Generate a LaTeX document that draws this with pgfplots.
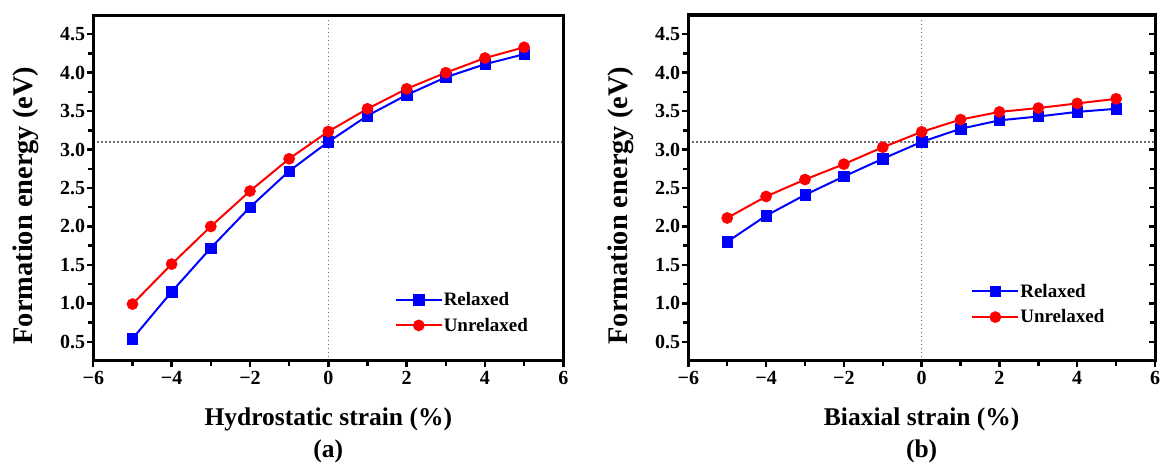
\documentclass[border=0pt]{standalone}
\usepackage{pgfplots}
\pgfplotsset{compat=1.18}
\usepackage{fontspec}
\setmainfont{Liberation Serif}

\pgfplotstableread{
x rel unrel
-5 0.54 0.99
-4 1.15 1.51
-3 1.72 2.00
-2 2.25 2.46
-1 2.72 2.88
0 3.10 3.235
1 3.44 3.53
2 3.71 3.79
3 3.94 4.00
4 4.11 4.19
5 4.24 4.33
}\hydro

\pgfplotstableread{
x rel unrel
-5 1.80 2.11
-4 2.14 2.39
-3 2.41 2.61
-2 2.65 2.81
-1 2.88 3.03
0 3.10 3.23
1 3.27 3.39
2 3.38 3.49
3 3.43 3.54
4 3.49 3.60
5 3.53 3.66
}\biax

\definecolor{refgray}{RGB}{105,105,105}

\pgfplotsset{
  every tick/.style={black, line width=2.4pt},
  every major tick/.append style={black, line width=2.4pt},
  every minor tick/.append style={black, line width=2.4pt},
  geom/.style={
    scale only axis, height=346pt,
    xmin=-6, xmax=6, ymin=0.25, ymax=4.75,
    axis line style={line width=3pt}, clip=false,
    major tick length=6.5pt, minor tick length=5.5pt,
  },
  myaxis/.style={
    geom,
    xtick={-6,-4,-2,0,2,4,6},
    xticklabels={−6,−4,−2,0,2,4,6},
    minor xtick={-5,-3,-1,1,3,5},
    ytick={0.5,1,1.5,2,2.5,3,3.5,4,4.5},
    yticklabels={0.5,1.0,1.5,2.0,2.5,3.0,3.5,4.0,4.5},
    minor ytick={0.75,1.25,1.75,2.25,2.75,3.25,3.75,4.25},
    tick align=outside, xtick pos=bottom, ytick pos=left,
    tick label style={font=\fontsize{20}{22}\selectfont\bfseries},
    yticklabel style={inner sep=1.5pt},
    xlabel style={font=\fontsize{25.5}{32}\selectfont\bfseries, align=center,
      at={(rel axis cs:0.5,-0.135)}, anchor=north, inner sep=0pt},
    every axis y label/.style={font=\fontsize{28.4}{32}\selectfont\bfseries,
      rotate=90, anchor=center},
    ylabel={Formation energy (eV)},
    legend cell align=left,
    legend style={draw=none, fill=none, anchor=west, inner sep=0pt,
      font=\fontsize{19}{22}\selectfont\bfseries, row sep=9pt,
      nodes={inner sep=1pt}},
    legend image code/.code={\draw[mark repeat=2,mark phase=2]
      plot coordinates {(0pt,0pt) (23pt,0pt) (46pt,0pt)};},
  },
  relstyle/.style={color=blue, draw=blue, line width=2pt, mark=square*, mark size=5.2pt,
    mark options={solid, fill=blue, draw=blue, line width=0.5pt}},
  unrelstyle/.style={color=red, draw=red, line width=2pt, mark=*, mark size=5.6pt,
    mark options={solid, fill=red, draw=red, line width=0.5pt}},
  refline/.style={refgray, line width=1.3pt, dash pattern=on 1.3pt off 2.7pt, forget plot},
}

\begin{document}
\begin{tikzpicture}[x=1pt,y=1pt]
\useasboundingbox (0,0) rectangle (1161,468);

% (a)
\begin{axis}[myaxis, width=470pt, at={(93.3pt,107pt)}, anchor=south west,
  xlabel={Hydrostatic strain (\%)\\(a)},
  every axis y label/.append style={at={(rel axis cs:-0.143,0.449)}},
  legend style={at={(rel axis cs:0.641,0.14)}}]
\addplot[refline] coordinates {(-6,3.1) (6,3.1)};
\addplot[refline] coordinates {(0,0.25) (0,4.75)};
\addplot[relstyle] table[x=x,y=rel] {\hydro};
\addlegendentry{Relaxed}
\addplot[unrelstyle] table[x=x,y=unrel] {\hydro};
\addlegendentry{Unrelaxed}
\draw[black, line width=3pt] (rel axis cs:0,0) rectangle (rel axis cs:1,1);
\end{axis}

% (b)
\begin{axis}[myaxis, width=466.7pt, at={(688.3pt,107pt)}, anchor=south west,
  xlabel={Biaxial strain (\%)\\(b)},
  every axis y label/.append style={at={(rel axis cs:-0.144,0.449)}},
  legend style={at={(rel axis cs:0.606,0.164)}}]
\addplot[refline] coordinates {(-6,3.1) (6,3.1)};
\addplot[refline] coordinates {(0,0.25) (0,4.75)};
\addplot[relstyle] table[x=x,y=rel] {\biax};
\addlegendentry{Relaxed}
\addplot[unrelstyle] table[x=x,y=unrel] {\biax};
\addlegendentry{Unrelaxed}
\draw[black, line width=3pt] (rel axis cs:0,0) rectangle (rel axis cs:1,1);
\end{axis}
% right-side inward ticks of (b)
\begin{axis}[geom, width=466.7pt, at={(688.3pt,107pt)}, anchor=south west,
  xtick=\empty, ytick={0.5,1,1.5,2,2.5,3,3.5,4,4.5},
  minor ytick={0.75,1.25,1.75,2.25,2.75,3.25,3.75,4.25},
  yticklabels={}, ytick pos=right, tick align=inside]
\end{axis}
\end{tikzpicture}
\end{document}
